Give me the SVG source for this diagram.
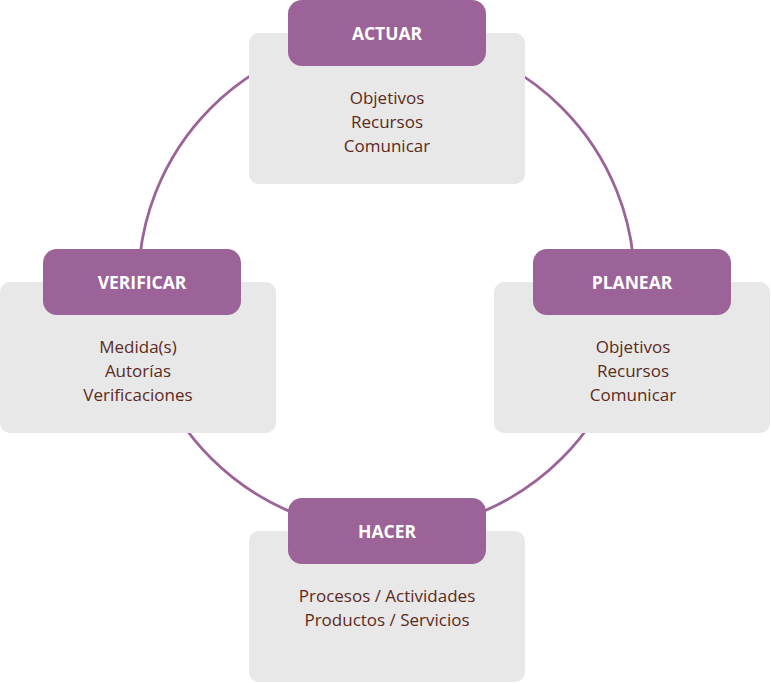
<svg xmlns="http://www.w3.org/2000/svg" width="771" height="683" viewBox="0 0 771 683">
<style>
.card{fill:#e8e8e8}
.head{fill:#9c6399}
.ht{font-family:"Open Sans","Noto Sans",sans-serif;font-weight:bold;font-size:17.5px;fill:#ffffff;text-anchor:middle;dominant-baseline:central}
.bt{font-family:"Open Sans","Noto Sans",sans-serif;font-size:17px;fill:#5c2a1c;text-anchor:middle;dominant-baseline:central}
.ring{fill:none;stroke:#9c6399;stroke-width:2.8}
</style>
<rect width="771" height="683" fill="#ffffff"/>
<g id="connectors">
<circle class="ring" cx="386.5" cy="283" r="248"/>
</g>
<g id="actuar">
<rect class="card" x="249" y="33" width="276" height="151" rx="10"/>
<rect class="head" x="288" y="0" width="198" height="66" rx="14"/>
<text class="ht" x="387" y="33">ACTUAR</text>
<text class="bt" x="387" y="97">Objetivos</text>
<text class="bt" x="387" y="121">Recursos</text>
<text class="bt" x="387" y="145">Comunicar</text>
</g>
<g id="verificar">
<rect class="card" x="0" y="282" width="276" height="151" rx="10"/>
<rect class="head" x="43" y="249" width="198" height="66" rx="14"/>
<text class="ht" x="142" y="282">VERIFICAR</text>
<text class="bt" x="138" y="346">Medida(s)</text>
<text class="bt" x="138" y="370">Autorías</text>
<text class="bt" x="138" y="394">Verificaciones</text>
</g>
<g id="planear">
<rect class="card" x="494" y="282" width="276" height="151" rx="10"/>
<rect class="head" x="533" y="249" width="198" height="66" rx="14"/>
<text class="ht" x="632" y="282">PLANEAR</text>
<text class="bt" x="633" y="346">Objetivos</text>
<text class="bt" x="633" y="370">Recursos</text>
<text class="bt" x="633" y="394">Comunicar</text>
</g>
<g id="hacer">
<rect class="card" x="249" y="531" width="276" height="151" rx="10"/>
<rect class="head" x="288" y="498" width="198" height="66" rx="14"/>
<text class="ht" x="387" y="531">HACER</text>
<text class="bt" x="387" y="595">Procesos / Actividades</text>
<text class="bt" x="387" y="619">Productos / Servicios</text>
</g>
</svg>
